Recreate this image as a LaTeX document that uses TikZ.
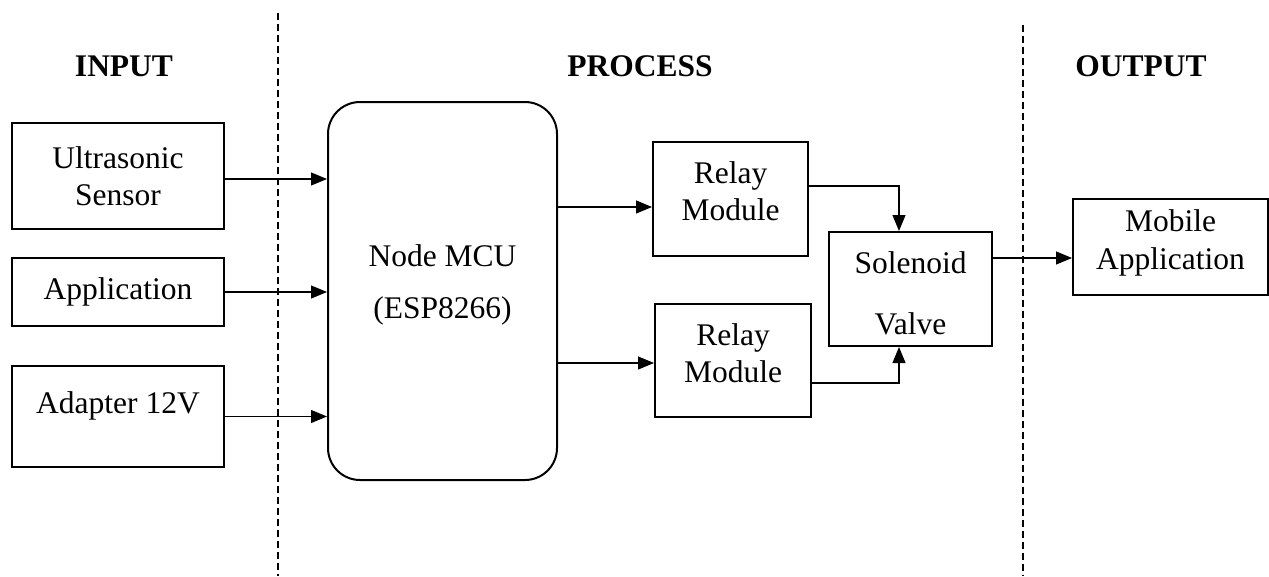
\documentclass[tikz,border=0pt]{standalone}
\usepackage{fontspec}
\setmainfont{Liberation Serif}
\usetikzlibrary{arrows.meta}
\begin{document}
\begin{tikzpicture}[x=1pt,y=-1pt,
  box/.style={draw,line width=2pt,inner sep=0pt,align=center,font=\fontsize{31.5}{37.5}\selectfont},
  txt/.style={inner sep=0pt,align=center,font=\fontsize{31.5}{37.5}\selectfont},
  head/.style={inner sep=0pt,font=\fontsize{31.5}{37.5}\selectfont\bfseries},
  arr/.style={line width=1.1pt,-{Triangle[length=16pt,width=13pt]}},
  sep/.style={line width=1.6pt,dash pattern=on 7pt off 4pt}]
\useasboundingbox (0,0) rectangle (1269,576);
% separators
\coordinate (s1t) at (278,13); \coordinate (s1b) at (278,576);
\coordinate (s2t) at (1023,25); \coordinate (s2b) at (1023,576);
\draw[sep] (s1t) -- (s1b);
\draw[sep] (s2t) -- (s2b);
% headers
\node[head] (hin) at (124,66) {INPUT};
\node[head] (hpr) at (640,66) {PROCESS};
\node[head] (hout) at (1141,66) {OUTPUT};
% input boxes
\node[box,minimum width=212pt,minimum height=106pt] (us) at (118,176) {Ultrasonic\\Sensor};
\node[box,minimum width=212pt,minimum height=68pt] (app) at (118,292) {Application};
\node[box,minimum width=212pt,minimum height=101pt] (ad) at (118,416.5) {};
\node[txt] (adt) at (118,406) {Adapter 12V};
% MCU
\node[box,rounded corners=32pt,minimum width=229pt,minimum height=378pt] (mcu) at (442.5,291) {};
\node[txt] (mcut) at (442.5,285) {Node MCU\\[14.5pt](ESP8266)};
% relays
\node[box,minimum width=155pt,minimum height=114pt] (r1) at (730.5,199) {};
\node[txt] (r1t) at (730.5,191) {Relay\\Module};
\node[box,minimum width=156pt,minimum height=113pt] (r2) at (733,360.5) {};
\node[txt] (r2t) at (733,353) {Relay\\Module};
% solenoid
\node[box,minimum width=163pt,minimum height=114pt] (sol) at (910.5,289) {};
\node[txt] (solt) at (910.5,293) {Solenoid\\[23.5pt]Valve};
% mobile
\node[box,minimum width=195pt,minimum height=96pt] (mob) at (1170.5,247) {};
\node[txt] (mobt) at (1170.5,243) {Mobile\\Application};
% connectors
\draw[arr] ([yshift=-3pt]us.east) -- ([yshift=-3pt]us.east -| mcu.west);
\draw[arr] (app.east) -- (app.east -| mcu.west);
\draw[arr] (ad.east) -- (ad.east -| mcu.west);
\draw[arr] ([yshift=84pt]mcu.east) -- ([yshift=84pt]mcu.east -| r1.west);
\draw[arr] ([yshift=-72pt]mcu.east) -- ([yshift=-72pt]mcu.east -| r2.west);
\draw[arr] ([yshift=13pt]r1.east) -| ([xshift=-11.5pt]sol.north);
\draw[arr] ([yshift=-22.5pt]r2.east) -| ([xshift=-11.5pt]sol.south);
\draw[arr] ([yshift=31pt]sol.east) -- ([yshift=31pt]sol.east -| mob.west);
\end{tikzpicture}
\end{document}
